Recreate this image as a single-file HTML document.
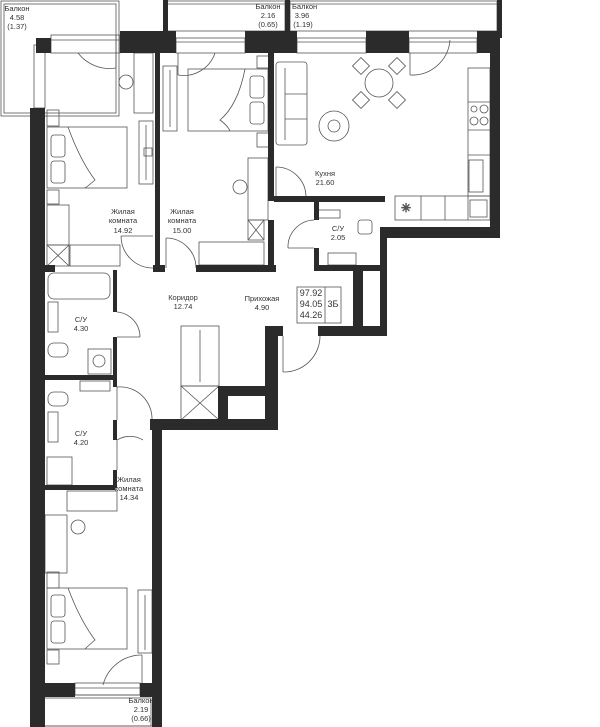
<!DOCTYPE html>
<html><head><meta charset="utf-8"><style>
html,body{margin:0;padding:0;background:#fff}
svg{display:block}
text{font-family:"Liberation Sans",sans-serif;font-size:7.5px;fill:#333;text-anchor:middle}
</style></head><body>
<svg width="600" height="727" viewBox="0 0 600 727" xmlns="http://www.w3.org/2000/svg">
<g fill="none" stroke="#555" stroke-width="0.8">
<!-- balconies -->
<rect x="1" y="1" width="118" height="115"/><rect x="4" y="4" width="112" height="109"/>
<rect x="167" y="1" width="118" height="30"/><rect x="290" y="1" width="207" height="30"/>
<line x1="290" y1="4" x2="497" y2="4"/><line x1="167" y1="4" x2="285" y2="4"/>
<rect x="41" y="695" width="113" height="31"/><rect x="44" y="698" width="107" height="28"/>
<!-- windows -->
<rect x="51" y="35" width="69" height="18"/><line x1="51" y1="40" x2="120" y2="40"/>
<rect x="176" y="38" width="69" height="15"/><line x1="176" y1="42" x2="245" y2="42"/>
<rect x="297" y="38" width="69" height="15"/><line x1="297" y1="42" x2="366" y2="42"/>
<rect x="409" y="38" width="68" height="15"/><line x1="409" y1="42" x2="477" y2="42"/>
<rect x="34" y="45" width="11" height="63"/>
<rect x="75" y="683" width="65" height="12"/><line x1="75" y1="688" x2="140" y2="688"/>
<!-- doors -->
<path d="M78 53 A40 40 0 0 0 116 68"/><line x1="116" y1="35" x2="116" y2="68"/>
<path d="M215 53 A33 33 0 0 1 178 75"/><line x1="178" y1="53" x2="178" y2="75"/>
<path d="M450 40 A38 38 0 0 1 410 75"/><line x1="410" y1="53" x2="410" y2="75"/>
<path d="M121 236 A32 32 0 0 0 153 268"/><line x1="121" y1="236" x2="153" y2="236"/>
<path d="M196 268 A30 30 0 0 0 166 238"/><line x1="166" y1="238" x2="166" y2="268"/>
<path d="M276 167 A30 30 0 0 1 306 197"/><line x1="276" y1="167" x2="276" y2="197"/>
<path d="M314 220 A27 27 0 0 0 288 248"/><line x1="288" y1="248" x2="314" y2="248"/>
<path d="M117 312 A25 25 0 0 1 140 337"/><line x1="117" y1="337" x2="140" y2="337"/>
<path d="M117 387 A32 32 0 0 1 152 420"/><line x1="117" y1="387" x2="117" y2="420"/>
<path d="M117 440 A25 25 0 0 1 143 440"/><line x1="117" y1="440" x2="117" y2="470"/>
<path d="M320 336 A36 36 0 0 1 283 372"/><line x1="283" y1="336" x2="283" y2="372"/>
<path d="M142 655 A40 40 0 0 0 103 685"/><line x1="142" y1="655" x2="142" y2="685"/>
<!-- bedroom 1 -->
<rect x="47" y="127" width="80" height="61"/>
<rect x="51" y="135" width="14" height="22" rx="3"/><rect x="51" y="161" width="14" height="22" rx="3"/>
<path d="M68 127 Q80 160 95 180 Q88 186 85 188"/>
<rect x="134" y="53" width="19" height="60"/><rect x="139" y="121" width="14" height="63"/>
<line x1="146" y1="125" x2="146" y2="180"/><rect x="144" y="148" width="8" height="8"/>
<circle cx="126" cy="82" r="7"/>
<rect x="47" y="110" width="12" height="16"/><rect x="47" y="190" width="12" height="14"/>
<rect x="47" y="205" width="22" height="40"/><rect x="47" y="245" width="22" height="21"/>
<line x1="47" y1="245" x2="69" y2="266"/><line x1="69" y1="245" x2="47" y2="266"/>
<rect x="70" y="245" width="50" height="21"/>
<!-- bedroom 2 -->
<rect x="188" y="69" width="80" height="62"/>
<rect x="250" y="76" width="14" height="22" rx="3"/><rect x="250" y="102" width="14" height="22" rx="3"/>
<path d="M245 69 Q238 105 220 120 Q228 126 230 131"/>
<rect x="257" y="56" width="12" height="12"/><rect x="257" y="133" width="12" height="14"/>
<rect x="163" y="66" width="14" height="65"/><line x1="170" y1="70" x2="170" y2="127"/>
<rect x="248" y="158" width="20" height="62"/><circle cx="240" cy="187" r="7"/>
<rect x="248" y="220" width="16" height="20"/>
<line x1="248" y1="220" x2="264" y2="240"/><line x1="264" y1="220" x2="248" y2="240"/>
<rect x="199" y="242" width="65" height="23"/>
<!-- living / kitchen -->
<rect x="276" y="62" width="31" height="83" rx="3"/><line x1="285" y1="68" x2="285" y2="140"/>
<line x1="285" y1="94" x2="307" y2="94"/><line x1="285" y1="119" x2="307" y2="119"/>
<circle cx="379" cy="83" r="14"/>
<rect x="355" y="60" width="12" height="12" transform="rotate(45 361 66)"/>
<rect x="391" y="60" width="12" height="12" transform="rotate(45 397 66)"/>
<rect x="355" y="94" width="12" height="12" transform="rotate(45 361 100)"/>
<rect x="391" y="94" width="12" height="12" transform="rotate(45 397 100)"/>
<circle cx="334" cy="126" r="15"/><circle cx="334" cy="126" r="6"/>
<rect x="468" y="68" width="22" height="128"/><line x1="468" y1="102" x2="490" y2="102"/>
<line x1="468" y1="130" x2="490" y2="130"/><line x1="468" y1="155" x2="490" y2="155"/>
<circle cx="474" cy="109" r="3"/><circle cx="484" cy="109" r="4"/><circle cx="474" cy="121" r="4"/><circle cx="484" cy="121" r="4"/>
<rect x="469" y="160" width="14" height="32"/>
<rect x="395" y="196" width="95" height="24"/><line x1="421" y1="196" x2="421" y2="220"/><line x1="445" y1="196" x2="445" y2="220"/><line x1="468" y1="196" x2="468" y2="220"/>
<rect x="470" y="200" width="17" height="17"/>
<text x="406" y="212" style="font-size:12px">✳</text>
<!-- bath 2.05 -->
<rect x="318" y="210" width="22" height="8"/><rect x="358" y="220" width="14" height="14" rx="3"/>
<rect x="328" y="253" width="28" height="12"/>
<!-- corridor closet -->
<rect x="181" y="326" width="38" height="60"/><line x1="200" y1="330" x2="200" y2="382"/>
<rect x="181" y="386" width="38" height="34"/>
<line x1="181" y1="386" x2="219" y2="420"/><line x1="219" y1="386" x2="181" y2="420"/>
<!-- baths -->
<rect x="48" y="273" width="62" height="26" rx="6"/>
<rect x="48" y="302" width="10" height="30"/><rect x="48" y="343" width="20" height="14" rx="6"/>
<rect x="88" y="349" width="23" height="25"/><circle cx="99" cy="361" r="6"/>
<rect x="80" y="381" width="30" height="10"/>
<rect x="48" y="392" width="20" height="14" rx="6"/><rect x="48" y="412" width="10" height="30"/>
<rect x="47" y="457" width="25" height="28"/>
<!-- bedroom 3 -->
<rect x="67" y="491" width="50" height="20"/>
<rect x="45" y="515" width="22" height="58"/><circle cx="78" cy="527" r="7"/>
<rect x="47" y="588" width="80" height="61"/>
<rect x="51" y="595" width="14" height="22" rx="3"/><rect x="51" y="621" width="14" height="22" rx="3"/>
<path d="M68 588 Q80 620 95 640 Q88 646 85 649"/>
<rect x="138" y="590" width="14" height="63"/><line x1="145" y1="595" x2="145" y2="650"/>
<rect x="47" y="572" width="12" height="16"/><rect x="47" y="650" width="12" height="14"/>
<!-- info box -->
<rect x="297" y="287" width="44" height="36"/><line x1="325" y1="287" x2="325" y2="323"/>
</g>
<g fill="#2b2b2b">
<!-- top balcony dividers -->
<rect x="163" y="0" width="5" height="32"/><rect x="285" y="0" width="5" height="32"/><rect x="497" y="0" width="5" height="38"/>
<!-- top wall blocks -->
<rect x="36" y="38" width="15" height="15"/>
<rect x="120" y="31" width="56" height="22"/>
<rect x="245" y="31" width="52" height="22"/>
<rect x="366" y="31" width="43" height="22"/>
<rect x="477" y="31" width="23" height="22"/>
<!-- outer walls -->
<rect x="30" y="108" width="15" height="619"/>
<rect x="490" y="38" width="10" height="200"/>
<rect x="385" y="227" width="115" height="11"/>
<rect x="380" y="227" width="7" height="109"/>
<rect x="318" y="326" width="68" height="10"/>
<rect x="353" y="270" width="10" height="60"/>
<rect x="265" y="326" width="13" height="100"/>
<rect x="218" y="386" width="60" height="10"/><rect x="218" y="386" width="10" height="40"/>
<rect x="150" y="419" width="128" height="11"/>
<rect x="152" y="419" width="10" height="308"/>
<rect x="45" y="683" width="30" height="14"/><rect x="140" y="683" width="15" height="14"/>
<!-- inner walls -->
<rect x="155" y="53" width="5" height="217"/>
<rect x="268" y="53" width="6" height="148"/><rect x="268" y="220" width="6" height="52"/>
<rect x="45" y="265" width="10" height="7"/><rect x="153" y="265" width="12" height="7"/><rect x="196" y="265" width="80" height="7"/>
<rect x="274" y="196" width="111" height="6"/>
<rect x="314" y="200" width="5" height="20"/><rect x="314" y="248" width="5" height="22"/>
<rect x="314" y="265" width="72" height="6"/>
<rect x="113" y="270" width="4" height="42"/><rect x="113" y="337" width="4" height="50"/><rect x="113" y="420" width="4" height="20"/><rect x="113" y="470" width="4" height="18"/>
<rect x="45" y="375" width="70" height="5"/><rect x="45" y="485" width="70" height="5"/>
<rect x="274" y="326" width="9" height="10"/>
</g>
<g>
<text x="17" y="11" style="text-anchor:middle">Балкон</text><text x="17" y="20">4.58</text><text x="17" y="29">(1.37)</text>
<text x="268" y="9">Балкон</text><text x="268" y="18">2.16</text><text x="268" y="27">(0.65)</text>
<text x="292" y="9" style="text-anchor:start">Балкон</text><text x="302" y="18">3.96</text><text x="303" y="27">(1.19)</text>
<text x="123" y="214">Жилая</text><text x="123" y="223">комната</text><text x="123" y="233">14.92</text>
<text x="182" y="214">Жилая</text><text x="182" y="223">комната</text><text x="182" y="233">15.00</text>
<text x="325" y="176">Кухня</text><text x="325" y="185">21.60</text>
<text x="338" y="231">С/У</text><text x="338" y="240">2.05</text>
<text x="183" y="300">Коридор</text><text x="183" y="309">12.74</text>
<text x="262" y="301">Прихожая</text><text x="262" y="310">4.90</text>
<text x="311" y="296" style="font-size:9px">97.92</text><text x="311" y="307" style="font-size:9px">94.05</text><text x="311" y="318" style="font-size:9px">44.26</text>
<text x="333" y="307" style="font-size:9px">3Б</text>
<text x="81" y="322">С/У</text><text x="81" y="331">4.30</text>
<text x="81" y="436">С/У</text><text x="81" y="445">4.20</text>
<text x="129" y="482">Жилая</text><text x="129" y="491">комната</text><text x="129" y="500">14.34</text>
<text x="141" y="703">Балкон</text><text x="141" y="712">2.19</text><text x="141" y="721">(0.66)</text>
</g>
</svg>
</body></html>
